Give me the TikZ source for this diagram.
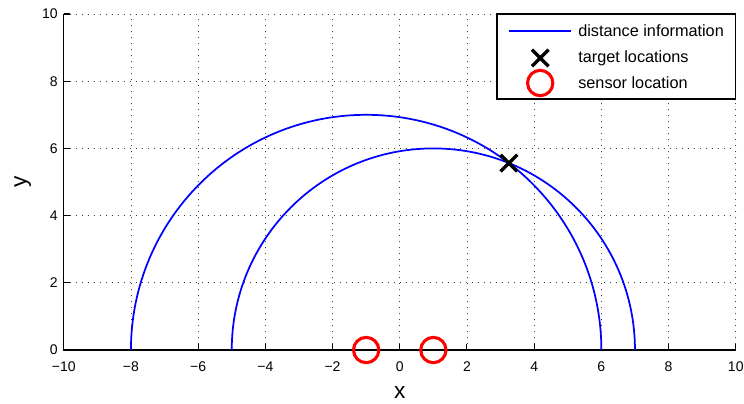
\documentclass[tikz,border=0pt]{standalone}
\usepackage{fontspec}
\setmainfont{Liberation Sans}
\usetikzlibrary{shapes.misc}

\begin{document}
\begin{tikzpicture}[
    x=25.2pt, y=25.2pt,
    gridline/.style={black!75, line width=0.6pt, dash pattern=on 0.6pt off 3.9pt},
    axisline/.style={black, line width=0.8pt},
    ticklabel/.style={inner sep=0pt, font=\fontsize{10.5}{12}\selectfont},
    axislabel/.style={inner sep=0pt, font=\fontsize{17}{20}\selectfont},
    distarc/.style={blue, line width=1.3pt},
    sensormark/.style={circle, draw=red, line width=2.3pt, minimum size=19pt, inner sep=0pt},
    targetmark/.style={cross out, draw=black, line width=2.5pt, minimum size=10pt, inner sep=0pt},
    legendbox/.style={draw=black, line width=0.8pt, fill=white},
    legendtext/.style={anchor=west, inner sep=0pt, font=\fontsize{12.2}{14}\selectfont}
]
\useasboundingbox (-11.897,-1.577) rectangle (10.245,10.417);

% Grid
\foreach \gx in {-8,-6,...,10}
  \draw[gridline] (\gx,0) -- (\gx,10);
\foreach \gy in {2,4,...,10}
  \draw[gridline] (-10,\gy) -- (10,\gy);

% Axes
\coordinate (origin) at (-10,0);
\coordinate (xend) at (10,0);
\coordinate (yend) at (-10,10);
\draw[axisline] (yend) -- (origin) -- (xend);
\foreach \gx in {-10,-8,...,10} {
  \draw[axisline] (\gx,0) -- ++(0,0.18);
  \node[ticklabel] (xt\gx) at (\gx,-0.5) {\ifnum\gx<0 −\number-\gx\else\gx\fi};
}
\foreach \gy in {0,2,...,10} {
  \draw[axisline] (-10,\gy) -- ++(0.18,0);
  \node[ticklabel, anchor=east] (yt\gy) at (-10.17,\gy) {\gy};
}
\node[axislabel] (xlabel) at (0,-1.25) {x};
\node[axislabel, rotate=90] (ylabel) at (-11.22,5) {y};

% Distance circles
\draw[distarc] (-8,0) arc[start angle=180, end angle=0, radius=7];
\draw[distarc] (-5,0) arc[start angle=180, end angle=0, radius=6];

% Markers
\node[sensormark] (sensorA) at (-1,0) {};
\node[sensormark] (sensorB) at (1,0) {};
\node[targetmark] (target) at (3.25,5.5625) {};

% Legend
\draw[legendbox] (2.894,7.47) rectangle (10,10);
\coordinate (lineA) at (3.25,9.494);
\coordinate (lineB) at (5.10,9.494);
\draw[distarc] (lineA) -- (lineB);
\node[targetmark] (legtarget) at (4.18,8.69) {};
\node[sensormark] (legsensor) at (4.18,7.946) {};
\node[legendtext] (legA) at (5.305,9.494) {distance information};
\node[legendtext] (legB) at (5.305,8.69) {target locations};
\node[legendtext] (legC) at (5.305,7.946) {sensor location};

\end{tikzpicture}
\end{document}
